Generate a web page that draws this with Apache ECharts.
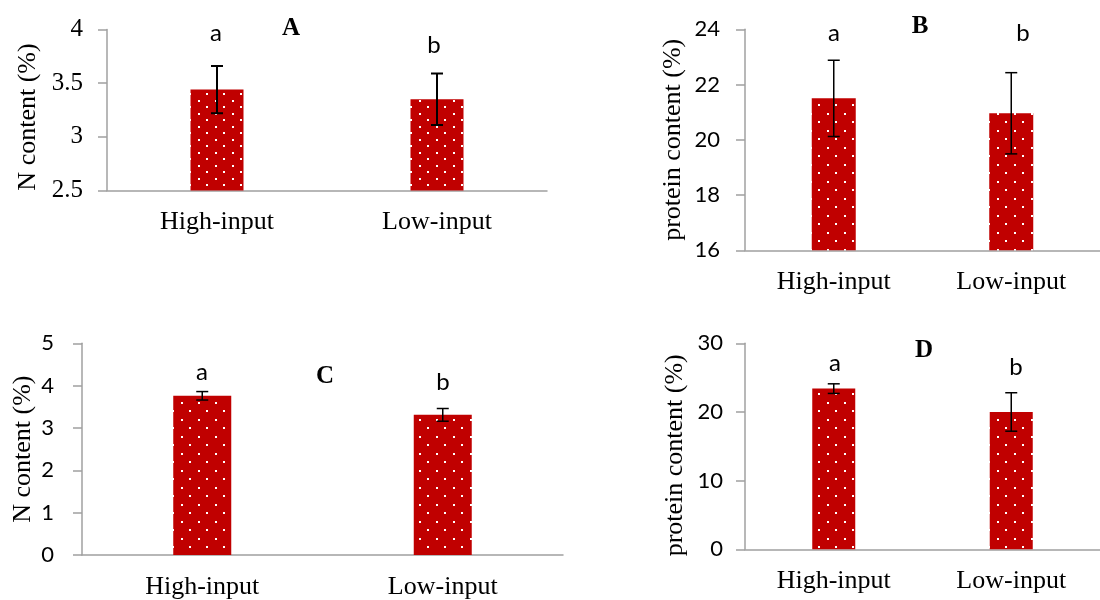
<!DOCTYPE html>
<html lang="en">
<head>
  <meta charset="UTF-8">
  <title>N and protein content</title>
  <script src="https://cdn.jsdelivr.net/npm/echarts@6/dist/echarts.min.js"></script>
  <style>
    body { margin: 0; background: #fff; }
    #main { width: 1100px; height: 600px; }
  </style>
</head>
<body>
  <div id="main"></div>
  <script type="text/javascript">
    // data
    var categories = ['High-input', 'Low-input'];
    var nA = [3.44, 3.35],   nAErr = [0.22, 0.24];
    var protB = [21.5, 20.96], protBErr = [1.38, 1.47];
    var nC = [3.76, 3.31],   nCErr = [0.10, 0.15];
    var protD = [23.4, 20.0], protDErr = [0.7, 2.8];
    var sigLetters = ['a', 'b'];
    var panelNames = ['A', 'B', 'C', 'D'];

    var serif = "'Liberation Serif', 'Times New Roman', serif";
    var sans = 'Lato, sans-serif';
    var red = '#C00000';
    var axisGrey = '#A0A0A0';

    // white dotted fill like the excel pattern
    function dotTile(w, h) {
      var c = document.createElement('canvas');
      c.width = w; c.height = h;
      var ctx = c.getContext('2d');
      ctx.fillStyle = red;
      ctx.fillRect(0, 0, w, h);
      ctx.fillStyle = '#fff';
      ctx.fillRect(2, 2, 2, 2);
      ctx.fillRect(Math.round(w / 2) + 2, Math.round(h / 2) + 2, 2, 2);
      return { image: c, repeat: 'repeat' };
    }

    // panel layout
    var panels = [
      { vals: nA, errs: nAErr, grid: { left: 107, top: 29.5, width: 440, height: 161 },
        min: 2.5, max: 4, interval: 0.5, name: 'N content (%)', nameGap: 66, namePad: [0, 14, 0, 0],
        tickFont: serif, tickSize: 25, labelMargin: 24, barWidth: 53, tile: [17, 13], errWidth: 2,
        letters: [[216, 33], [434, 45]], panel: [291, 29] },
      { vals: protB, errs: protBErr, grid: { left: 745, top: 29.3, width: 368, height: 221 },
        min: 16, max: 24, interval: 2, name: 'protein content (%)', nameGap: 59, namePad: 0,
        tickFont: sans, tickSize: 22, labelMargin: 25, barWidth: 44, tile: [17, 17], errWidth: 1.5,
        letters: [[834, 33], [1023, 33]], panel: [920, 27] },
      { vals: nC, errs: nCErr, grid: { left: 82, top: 343.3, width: 481, height: 212.7 },
        min: 0, max: 5, interval: 1, name: 'N content (%)', nameGap: 46, namePad: 0,
        tickFont: sans, tickSize: 22, labelMargin: 28, barWidth: 58, tile: [17, 17], errWidth: 1.5,
        letters: [[202, 372], [443, 382]], panel: [325, 377] },
      { vals: protD, errs: protDErr, grid: { left: 745, top: 343.3, width: 361, height: 206 },
        min: 0, max: 30, interval: 10, name: 'protein content (%)', nameGap: 57, namePad: [0, 18, 0, 0],
        tickFont: sans, tickSize: 22, labelMargin: 22, barWidth: 43, tile: [17, 17], errWidth: 1.5,
        letters: [[835, 363], [1016, 367]], panel: [924, 351] }
    ];

    function errRenderer(lw) {
      return function (params, api) {
        var x = api.value(0), v = api.value(1), e = api.value(2);
        var top = api.coord([x, v + e]);
        var bot = api.coord([x, v - e]);
        var cap = 6;
        var st = { stroke: '#000', lineWidth: lw };
        return {
          type: 'group',
          children: [
            { type: 'line', shape: { x1: top[0], y1: top[1], x2: bot[0], y2: bot[1] }, style: st },
            { type: 'line', shape: { x1: top[0] - cap, y1: top[1], x2: top[0] + cap, y2: top[1] }, style: st },
            { type: 'line', shape: { x1: bot[0] - cap, y1: bot[1], x2: bot[0] + cap, y2: bot[1] }, style: st }
          ]
        };
      };
    }

    var option = { animation: false, grid: [], xAxis: [], yAxis: [], series: [], graphic: [] };

    panels.forEach(function (p, i) {
      option.grid.push(p.grid);
      option.xAxis.push({
        type: 'category', gridIndex: i, data: categories,
        axisLine: { lineStyle: { color: axisGrey, width: 1.5 } },
        axisTick: { show: false },
        axisLabel: { fontFamily: serif, fontSize: 26, color: '#000', margin: 19 }
      });
      option.yAxis.push({
        type: 'value', gridIndex: i, min: p.min, max: p.max, interval: p.interval,
        name: p.name, nameLocation: 'middle', nameGap: p.nameGap,
        nameTextStyle: { fontFamily: serif, fontSize: 26, color: '#000', padding: p.namePad },
        axisLine: { show: true, lineStyle: { color: axisGrey, width: 1.5 } },
        axisTick: { show: true, length: 9, lineStyle: { color: axisGrey, width: 1.5 } },
        splitLine: { show: false },
        axisLabel: { fontFamily: p.tickFont, fontSize: p.tickSize, color: '#000', margin: p.labelMargin }
      });
      option.series.push({
        type: 'bar', xAxisIndex: i, yAxisIndex: i, data: p.vals, barWidth: p.barWidth,
        itemStyle: { color: dotTile(p.tile[0], p.tile[1]) }
      });
      option.series.push({
        type: 'custom', xAxisIndex: i, yAxisIndex: i, z: 5,
        data: p.vals.map(function (v, k) { return [k, v, p.errs[k]]; }),
        renderItem: errRenderer(p.errWidth)
      });
      p.letters.forEach(function (pos, k) {
        option.graphic.push({
          type: 'text', x: pos[0], y: pos[1],
          style: { text: sigLetters[k], font: '24px Lato', fill: '#000',
                   textAlign: 'center', textVerticalAlign: 'middle' }
        });
      });
      option.graphic.push({
        type: 'text', x: p.panel[0], y: p.panel[1],
        style: { text: panelNames[i], font: "bold 25px 'Liberation Serif'", fill: '#000',
                 textAlign: 'center', textVerticalAlign: 'middle' }
      });
    });

    var myChart = echarts.init(document.getElementById('main'));
    myChart.setOption(option);
  </script>
</body>
</html>
